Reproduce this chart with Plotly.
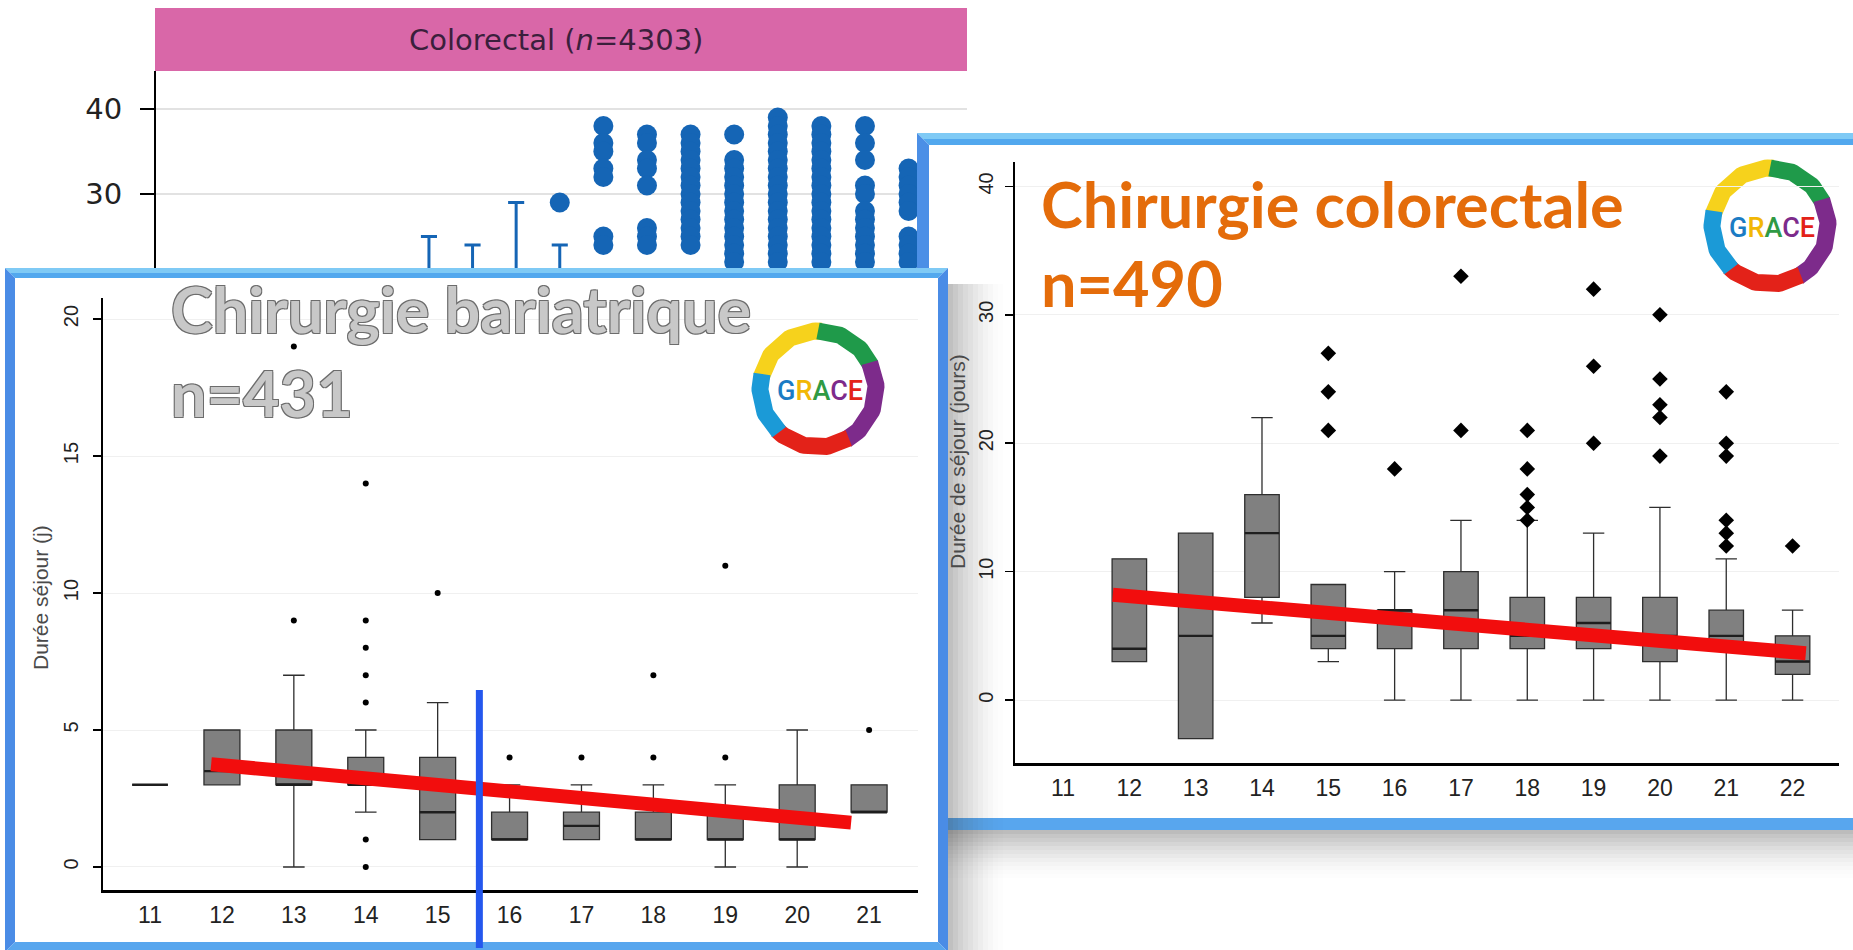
import numpy as np
import plotly.graph_objects as go

W, H = 1853, 950


def px(x):
    """pixel column -> paper fraction"""
    return x / W


def py(y):
    """pixel row (counted from the top) -> paper fraction"""
    return 1 - y / H


# ---------------------------------------------------------------- data
# Colorectal (n=4303): upper part of each column (whisker end + outlying stays)
colo_cats = [7, 8, 9, 10, 11, 12, 13, 14, 15, 16, 17, 18]
colo_whisker_top = [25, 24, 29, 24, 21, 21, 21, 21, 21, 21, 21, 21]
colo_points = [
    [],
    [],
    [],
    [29],
    [38, 36, 35, 33, 32, 25, 24],
    [37, 36, 34, 33, 31, 26, 25, 24],
    [37, 36, 35, 34, 33, 32, 31, 30, 29, 28, 27, 26, 25, 24],
    [37, 34, 33, 32, 31, 30, 29, 28, 27, 26, 25, 24, 23, 22],
    [39, 38, 37, 36, 35, 34, 33, 32, 31, 30, 29, 28, 27, 26, 25, 24, 23, 22],
    [38, 37, 36, 35, 34, 33, 32, 31, 30, 29, 28, 27, 26, 25, 24, 23, 22],
    [38, 36, 34, 31, 30, 28, 27, 26, 25, 24, 23, 22],
    [33, 32, 31, 30, 29, 28, 25, 24, 23, 22],
]
colo_yticks = [10, 20, 30, 40]

# Chirurgie bariatrique (n=431) - length of stay (days) by category
bari_ticks = [11, 12, 13, 14, 15, 16, 17, 18, 19, 20, 21]
bari_cats = [11, 12, 13, 14, 15, 16, 17, 18, 19, 20, 21]
bari_q1 = [3, 3, 3, 3, 1, 1, 1, 1, 1, 1, 2]
bari_med = [3, 3.5, 3, 3, 2, 1, 1.5, 1, 1, 1, 2]
bari_q3 = [3, 5, 5, 4, 4, 2, 2, 2, 2, 3, 3]
bari_low = [3, 3, 0, 2, 1, 1, 1, 1, 0, 0, 2]
bari_high = [3, 5, 7, 5, 6, 3, 3, 3, 3, 5, 3]
bari_outliers = {13: [9, 19], 14: [0, 1, 6, 7, 8, 9, 14], 15: [10], 16: [4],
                 17: [4], 18: [4, 7], 19: [4, 11], 21: [5]}
bari_trend_x = [11.85, 20.75]
bari_trend_y = [3.75, 1.62]
bari_cutoff = 15.58
bari_yticks = [0, 5, 10, 15, 20]

# Chirurgie colorectale (n=490)
colo2_ticks = [11, 12, 13, 14, 15, 16, 17, 18, 19, 20, 21, 22]
colo2_cats = [12, 13, 14, 15, 16, 17, 18, 19, 20, 21, 22]
colo2_q1 = [3, -3, 8, 4, 4, 4, 4, 4, 3, 4, 2]
colo2_med = [4, 5, 13, 5, 7, 7, 5, 6, 5, 5, 3]
colo2_q3 = [11, 13, 16, 9, 7, 10, 8, 8, 8, 7, 5]
colo2_low = [3, -3, 6, 3, 0, 0, 0, 0, 0, 0, 0]
colo2_high = [11, 13, 22, 9, 10, 14, 14, 13, 15, 11, 7]
colo2_outliers = {15: [21, 24, 27], 16: [18], 17: [21, 33], 18: [14, 15, 16, 18, 21],
                  19: [20, 26, 32], 20: [19, 22, 23, 25, 30],
                  21: [12, 13, 14, 19, 20, 24], 22: [12]}
colo2_trend_x = [11.75, 22.2]
colo2_trend_y = [8.2, 3.65]
colo2_yticks = [0, 10, 20, 30, 40]

# ---------------------------------------------------------------- styles
BLUE_DOT = '#1565b5'
BOX_FILL = '#808080'
BOX_LINE = '#2e2e2e'
TREND = '#f20d0d'
ORANGE = '#e46c0a'
ring_segments = [(282, 4, '#f6d21c'), (0, 66, '#1f9a4a'), (63, 151, '#7d2b8b'),
                 (148, 225, '#e32219'), (222, 285, '#1b9ad7')]
grace_colors = ['#1b7cc4', '#f2b705', '#2f9a44', '#7d2b8b', '#e32219']

fig = go.Figure()


def poly(xs, ys, color, layer):
    fig.add_trace(go.Scatter(
        x=list(xs) + [xs[0]], y=list(ys) + [ys[0]], mode='lines', fill='toself',
        fillcolor=color, line=dict(width=0, color=color), hoverinfo='skip',
        showlegend=False, xaxis='x' + layer, yaxis='y' + layer))


def ring(cx, cy, layer):
    r = 58
    for a0, a1, col in ring_segments:
        if a1 < a0:
            a1 += 360
        t = np.radians(np.linspace(a0, a1, 40))
        fig.add_trace(go.Scatter(
            x=cx + r * np.sin(t), y=cy - r * np.cos(t), mode='lines',
            line=dict(color=col, width=17), hoverinfo='skip', showlegend=False,
            xaxis='x' + layer, yaxis='y' + layer))


def frame(x0, y0, x1, y1, t, layer, top_cols, side_col, bottom_col):
    poly([x0, x1, x1, x0], [y0, y0, y1, y1], 'white', layer)
    half = t / 2
    poly([x0, x1, x1 - half, x0 + half], [y0, y0, y0 + half, y0 + half], top_cols[0], layer)
    poly([x0 + half, x1 - half, x1 - t, x0 + t], [y0 + half, y0 + half, y0 + t, y0 + t],
         top_cols[1], layer)
    poly([x0, x0 + t, x0 + t, x0], [y0, y0 + t, y1 - t, y1], side_col, layer)
    poly([x1, x1, x1 - t, x1 - t], [y0, y1, y1 - t, y0 + t], side_col, layer)
    poly([x0, x0 + t, x1 - t, x1], [y1, y1 - t, y1 - t, y1], bottom_col, layer)


# ---------------------------------------------------- layer 1: Colorectal (n=4303)
BG_FLOOR = 0
wx, wy = [], []
for c, top in zip(colo_cats, colo_whisker_top):
    wx += [c, c, None]
    wy += [BG_FLOOR, top, None]
fig.add_trace(go.Scatter(x=wx, y=wy, mode='lines', line=dict(color=BLUE_DOT, width=3),
                         hoverinfo='skip', showlegend=False, xaxis='x', yaxis='y'))
fig.add_trace(go.Scatter(x=colo_cats, y=colo_whisker_top, mode='markers',
                         marker=dict(symbol='line-ew', size=11.5,
                                     line=dict(color=BLUE_DOT, width=3)),
                         hoverinfo='skip', showlegend=False, xaxis='x', yaxis='y'))
dx = [c for c, pts in zip(colo_cats, colo_points) for _ in pts]
dy = [v for pts in colo_points for v in pts]
fig.add_trace(go.Scatter(x=dx, y=dy, mode='markers',
                         marker=dict(color=BLUE_DOT, size=20, line=dict(width=0)),
                         hoverinfo='skip', showlegend=False, xaxis='x', yaxis='y'))

# ---------------------------------------------------- layer 2: right panel card
for i in range(12):
    a = 0.34 * (1 - i / 12) ** 1.6
    poly([925, W, W, 925], [830 + 4 * i, 830 + 4 * i, 834 + 4 * i, 834 + 4 * i],
         f'rgba(60,60,60,{a:.3f})', '2')
frame(917, 133, W + 14, 830, 12, '2', ('#7fcaf5', '#52a8ee'), '#4b8fe6', '#58a6ee')
ring(1770, 226, '2')

# ---------------------------------------------------- layer 3: Chirurgie colorectale
fig.add_trace(go.Box(
    x=colo2_cats, q1=colo2_q1, median=colo2_med, q3=colo2_q3,
    lowerfence=colo2_low, upperfence=colo2_high, width=0.52, whiskerwidth=0.62,
    fillcolor=BOX_FILL, line=dict(color=BOX_LINE, width=1.3), boxpoints=False,
    hoverinfo='skip', showlegend=False, xaxis='x3', yaxis='y3'))
fig.add_trace(go.Scatter(x=colo2_cats, y=colo2_med, mode='markers',
                         marker=dict(symbol='line-ew', size=24.5,
                                     line=dict(color='#1e1e1e', width=2.4)),
                         hoverinfo='skip', showlegend=False, xaxis='x3', yaxis='y3'))
ox = [c for c, vals in colo2_outliers.items() for _ in vals]
oy = [v for vals in colo2_outliers.values() for v in vals]
fig.add_trace(go.Scatter(x=ox, y=oy, mode='markers',
                         marker=dict(symbol='diamond', size=12, color='black'),
                         hoverinfo='skip', showlegend=False, xaxis='x3', yaxis='y3'))
fig.add_trace(go.Scatter(x=colo2_trend_x, y=colo2_trend_y, mode='lines',
                         line=dict(color=TREND, width=14),
                         hoverinfo='skip', showlegend=False, xaxis='x3', yaxis='y3'))

# ---------------------------------------------------- layer 4: left panel card
for i in range(11):
    a = 0.32 * (1 - i / 11) ** 1.6
    poly([948 + 5 * i, 953 + 5 * i, 953 + 5 * i, 948 + 5 * i], [284, 284, H, H],
         f'rgba(60,60,60,{a:.3f})', '4')
frame(5, 268, 948, H + 2, 10, '4', ('#7fcaf5', '#52a8ee'), '#4a8ce6', '#58a6ee')
ring(818, 389, '4')

# ---------------------------------------------------- layer 5: Chirurgie bariatrique
fig.add_trace(go.Box(
    x=bari_cats, q1=bari_q1, median=bari_med, q3=bari_q3,
    lowerfence=bari_low, upperfence=bari_high, width=0.5, whiskerwidth=0.6,
    fillcolor=BOX_FILL, line=dict(color=BOX_LINE, width=1.3), boxpoints=False,
    hoverinfo='skip', showlegend=False, xaxis='x5', yaxis='y5'))
fig.add_trace(go.Scatter(x=bari_cats, y=bari_med, mode='markers',
                         marker=dict(symbol='line-ew', size=25.5,
                                     line=dict(color='#1e1e1e', width=2.4)),
                         hoverinfo='skip', showlegend=False, xaxis='x5', yaxis='y5'))
bx = [c for c, vals in bari_outliers.items() for _ in vals]
by = [v for vals in bari_outliers.values() for v in vals]
fig.add_trace(go.Scatter(x=bx, y=by, mode='markers',
                         marker=dict(symbol='circle', size=6, color='black'),
                         hoverinfo='skip', showlegend=False, xaxis='x5', yaxis='y5'))
fig.add_trace(go.Scatter(x=bari_trend_x, y=bari_trend_y, mode='lines',
                         line=dict(color=TREND, width=14),
                         hoverinfo='skip', showlegend=False, xaxis='x5', yaxis='y5'))

# cut-off marker on the bariatric panel
fig.add_shape(type='line', xref='x5', yref='paper', x0=bari_cutoff, x1=bari_cutoff,
              y0=py(948), y1=py(690), line=dict(color='#2457ee', width=7), layer='above')

# pink strip heading the Colorectal panel
fig.add_shape(type='rect', xref='paper', yref='paper', x0=px(155), x1=px(967),
              y0=py(71), y1=py(8), fillcolor='#d967a8', line_width=0, layer='below')

# ---------------------------------------------------------------- axes
TICK_FONT = dict(family='Liberation Sans, Arial, sans-serif', size=23, color='#222')
YTICK_FONT = dict(family='Liberation Sans, Arial, sans-serif', size=20, color='#222')
pixel_x = dict(domain=[0, 1], range=[0, W], visible=False, fixedrange=True)
pixel_y = dict(domain=[0, 1], range=[H, 0], visible=False, fixedrange=True)

layout_axes = dict(
    xaxis=dict(domain=[px(156), px(967)], range=[0.74, 19.34], visible=False,
               anchor='y', fixedrange=True),
    yaxis=dict(domain=[py(420), py(71)], range=[3.41, 44.47], anchor='x',
               tickvals=colo_yticks, ticks='outside', ticklen=14, tickwidth=2,
               tickcolor='black', showline=True, linecolor='black', linewidth=2,
               showgrid=True, gridcolor='#e2e2e2', gridwidth=2, zeroline=False,
               ticklabelstandoff=12,
               tickfont=dict(family='DejaVu Sans', size=29, color='#222'),
               fixedrange=True),
    xaxis2=dict(pixel_x, anchor='y2'),
    yaxis2=dict(pixel_y, anchor='x2'),
    xaxis3=dict(domain=[px(1015), px(1839)], range=[10.276, 22.70], anchor='y3',
                tickvals=colo2_ticks, ticktext=[str(t) for t in colo2_ticks],
                showline=True, linecolor='black', linewidth=3, ticks='outside',
                ticklen=2, tickcolor='rgba(0,0,0,0)', showgrid=False, zeroline=False,
                tickfont=TICK_FONT, fixedrange=True),
    yaxis3=dict(domain=[py(763), py(162)], range=[-4.9, 41.9], anchor='x3',
                tickvals=colo2_yticks, tickangle=-90, ticks='outside', ticklen=8,
                tickwidth=1.5, tickcolor='black', showline=True, linecolor='black',
                linewidth=2, showgrid=True, gridcolor='#f0f0f0', zeroline=False,
                ticklabelstandoff=4, tickfont=YTICK_FONT, fixedrange=True),
    xaxis4=dict(pixel_x, anchor='y4'),
    yaxis4=dict(pixel_y, anchor='x4'),
    xaxis5=dict(domain=[px(103), px(918)], range=[10.346, 21.68], anchor='y5',
                tickvals=bari_ticks, ticktext=[str(t) for t in bari_ticks],
                showline=True, linecolor='black', linewidth=3, ticks='outside',
                ticklen=2, tickcolor='rgba(0,0,0,0)', showgrid=False, zeroline=False,
                tickfont=TICK_FONT, fixedrange=True),
    yaxis5=dict(domain=[py(890), py(298)], range=[-0.84, 20.77], anchor='x5',
                tickvals=bari_yticks, tickangle=-90, ticks='outside', ticklen=8,
                tickwidth=1.5, tickcolor='black', showline=True, linecolor='black',
                linewidth=2, showgrid=True, gridcolor='#f0f0f0', zeroline=False,
                ticklabelstandoff=7, tickfont=YTICK_FONT, fixedrange=True),
)

# ---------------------------------------------------------------- texts
outline = '#6c6c6c'
outline_shadow = (f'1px 1px 0 {outline}, -1px -1px 0 {outline}, '
                  f'1px -1px 0 {outline}, -1px 1px 0 {outline}')
grace_text = ''.join(f'<span style="color:{c}">{ch}</span>'
                     for ch, c in zip('GRACE', grace_colors))


def note(x, y, text, font, **kw):
    d = dict(x=px(x), y=py(y), xref='paper', yref='paper', text=text,
             showarrow=False, font=font, xanchor='center', yanchor='middle')
    d.update(kw)
    return d


title_font_l = dict(family='Lato', size=63, weight=700, color='#c8c8c8',
                    shadow=outline_shadow)
title_font_r = dict(family='Lato', size=63, weight=700, color=ORANGE)
annotations = [
    note(556, 40, 'Colorectal (<i>n</i>=4303)',
         dict(family='DejaVu Sans', size=29, color='#3b1f3c')),
    note(169, 308, 'Chirurgie bariatrique', title_font_l, xanchor='left'),
    note(169, 392, 'n=431', title_font_l, xanchor='left'),
    note(1039, 203, 'Chirurgie colorectale', title_font_r, xanchor='left'),
    note(1039, 283, 'n=490', title_font_r, xanchor='left'),
    note(820, 391, grace_text, dict(family='Roboto', size=27, weight=500)),
    note(1772, 228, grace_text, dict(family='Roboto', size=27, weight=500)),
    note(40, 598, 'Durée séjour (j)',
         dict(family='Liberation Sans, Arial, sans-serif', size=21, color='#4a4a4a'),
         textangle=-90),
    note(957, 462, 'Durée de séjour (jours)',
         dict(family='Liberation Sans, Arial, sans-serif', size=21, color='#4a4a4a'),
         textangle=-90),
]

fig.update_layout(
    width=W, height=H, autosize=False,
    margin=dict(l=0, r=0, t=0, b=0, pad=0),
    paper_bgcolor='white', plot_bgcolor='rgba(0,0,0,0)',
    showlegend=False, annotations=annotations, **layout_axes,
)

fig.write_html('out.html', config={'displayModeBar': False, 'staticPlot': True})
